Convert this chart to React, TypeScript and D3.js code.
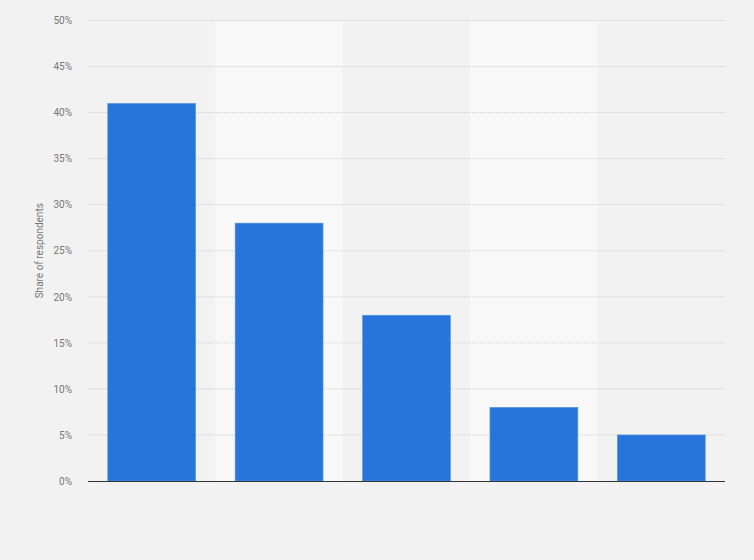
import React, { useEffect, useRef } from 'react';
import * as d3 from 'd3';

const categories = ['A', 'B', 'C', 'D', 'E'];
const shares = [41, 28, 18, 8, 5];
const yTicks = [0, 5, 10, 15, 20, 25, 30, 35, 40, 45, 50];

const App = () => {
    const svgRef = useRef(null);

    useEffect(() => {
        const width = 754;
        const height = 560;
        const margin = { top: 20.5, right: 29, bottom: 79, left: 88 };
        const innerW = width - margin.left - margin.right;
        const innerH = height - margin.top - margin.bottom;

        const svg = d3.select(svgRef.current);
        svg.selectAll('*').remove();

        svg.append('rect').attr('width', width).attr('height', height).attr('fill', '#f2f2f2');

        const g = svg.append('g').attr('transform', `translate(${margin.left},${margin.top})`);

        const band = d3.scaleBand().domain(categories).range([0, innerW]).paddingInner(0).paddingOuter(0);
        const x = d3.scaleBand().domain(categories).range([0, innerW]).paddingInner(0.31).paddingOuter(0.155);
        const y = d3.scaleLinear().domain([0, 50]).range([innerH, 0]);

        // alternating column bands
        g.selectAll('rect.band')
            .data(categories)
            .enter()
            .append('rect')
            .attr('class', 'band')
            .attr('x', d => band(d))
            .attr('y', 0)
            .attr('width', band.bandwidth())
            .attr('height', innerH)
            .attr('fill', (d, i) => (i % 2 === 1 ? '#f8f8f8' : '#f2f2f2'));

        // gridlines
        g.selectAll('line.grid')
            .data(yTicks.filter(t => t > 0))
            .enter()
            .append('line')
            .attr('x1', 0)
            .attr('x2', innerW)
            .attr('y1', d => y(d))
            .attr('y2', d => y(d))
            .attr('stroke', '#cfcfcf')
            .attr('stroke-width', 1)
            .attr('stroke-dasharray', '1,1');

        // y axis labels
        const yAxis = d3.axisLeft(y).tickValues(yTicks).tickSize(0).tickPadding(16).tickFormat(d => `${d}%`);
        const ay = g.append('g').call(yAxis);
        ay.select('.domain').remove();
        ay.selectAll('text')
            .attr('fill', '#777')
            .style('font-family', 'Roboto, Arial, sans-serif')
            .style('font-size', '10px');

        // bars
        g.selectAll('rect.bar')
            .data(shares)
            .enter()
            .append('rect')
            .attr('class', 'bar')
            .attr('x', (d, i) => x(categories[i]))
            .attr('y', d => y(d))
            .attr('width', x.bandwidth())
            .attr('height', d => innerH - y(d))
            .attr('fill', '#2775db')
            .attr('stroke', '#5a98e6')
            .attr('stroke-width', 0.6);

        // baseline
        g.append('line')
            .attr('x1', 0)
            .attr('x2', innerW)
            .attr('y1', innerH + 0.5)
            .attr('y2', innerH + 0.5)
            .attr('stroke', '#333')
            .attr('stroke-width', 1.2);

        // y title
        svg.append('text')
            .attr('transform', `translate(43,${margin.top + innerH / 2}) rotate(-90)`)
            .attr('text-anchor', 'middle')
            .attr('fill', '#777')
            .style('font-family', 'Roboto, Arial, sans-serif')
            .style('font-size', '10px')
            .text('Share of respondents');
    }, []);

    return (
        <svg
            ref={svgRef}
            width={754}
            height={560}
            style={{ position: 'absolute', left: 0, top: 0, display: 'block' }}
        ></svg>
    );
};

export default App;
